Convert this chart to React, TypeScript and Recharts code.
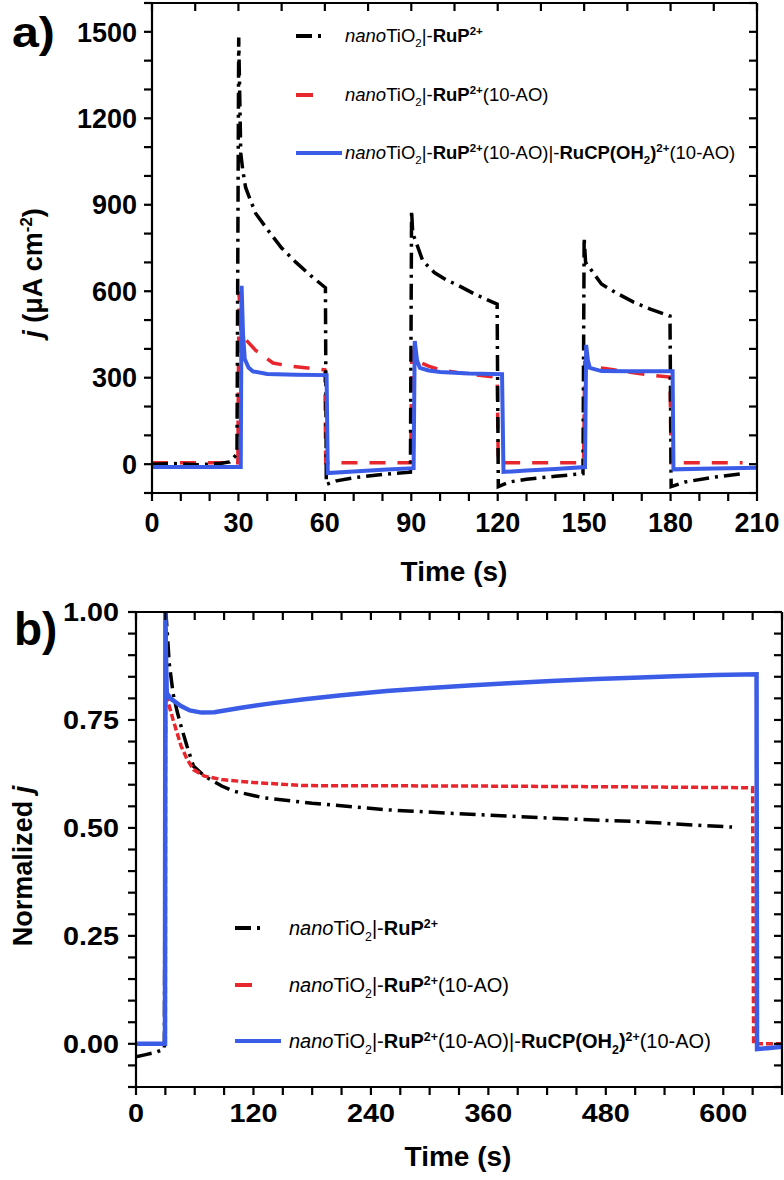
import React from "react";
import { LineChart, Line, XAxis, YAxis } from "recharts";

type P = { t: number; v: number };

// ---------- Panel a data (j, µA cm^-2 vs time, s) ----------
const blackA: P[] = [
  { t: 0, v: 0 }, { t: 8, v: 2 }, { t: 16, v: -2 }, { t: 24, v: 3 }, { t: 27, v: 8 }, { t: 29.5, v: 35 },
  { t: 30.1, v: 1480 }, { t: 30.5, v: 1250 }, { t: 30.8, v: 1080 }, { t: 31.5, v: 1020 }, { t: 32.5, v: 960 },
  { t: 34, v: 920 }, { t: 36, v: 870 }, { t: 40, v: 815 }, { t: 45, v: 750 }, { t: 50, v: 700 }, { t: 55, v: 655 },
  { t: 60.2, v: 612 },
  { t: 60.5, v: -70 }, { t: 64, v: -58 }, { t: 70, v: -47 }, { t: 80, v: -36 }, { t: 89.7, v: -28 },
  { t: 90.1, v: 880 }, { t: 90.5, v: 800 }, { t: 91.5, v: 775 }, { t: 94, v: 705 }, { t: 98, v: 665 },
  { t: 102, v: 640 }, { t: 106, v: 622 }, { t: 112, v: 590 }, { t: 116, v: 572 }, { t: 119.8, v: 555 },
  { t: 120.2, v: -78 }, { t: 124, v: -62 }, { t: 130, v: -52 }, { t: 140, v: -42 }, { t: 149.6, v: -33 },
  { t: 150, v: 786 }, { t: 150.5, v: 700 }, { t: 152, v: 680 }, { t: 156, v: 625 }, { t: 161, v: 595 },
  { t: 167, v: 563 }, { t: 173, v: 538 }, { t: 179.8, v: 514 },
  { t: 180.2, v: -78 }, { t: 185, v: -62 }, { t: 195, v: -45 }, { t: 205, v: -33 },
];

const redA: P[] = [
  { t: 0, v: 5 }, { t: 29.8, v: 5 }, { t: 30.2, v: 600 }, { t: 30.8, v: 470 }, { t: 32, v: 438 }, { t: 36, v: 395 },
  { t: 42, v: 351 }, { t: 48, v: 340 }, { t: 54, v: 334 }, { t: 60, v: 327 },
  { t: 60.3, v: 5 }, { t: 89.8, v: 5 }, { t: 90.2, v: 389 }, { t: 92, v: 358 }, { t: 96, v: 340 }, { t: 100, v: 327 },
  { t: 110, v: 312 }, { t: 119.8, v: 302 },
  { t: 120.2, v: 5 }, { t: 149.8, v: 5 }, { t: 150.2, v: 351 }, { t: 152, v: 345 }, { t: 156, v: 334 },
  { t: 165, v: 320 }, { t: 172, v: 310 }, { t: 179.8, v: 302 },
  { t: 180.2, v: 5 }, { t: 205, v: 5 },
];

const blueA: P[] = [
  { t: 0, v: -10 }, { t: 30.8, v: -10 }, { t: 31.1, v: 619 }, { t: 31.6, v: 450 }, { t: 32.2, v: 365 },
  { t: 33.5, v: 335 }, { t: 35, v: 322 }, { t: 40, v: 313 }, { t: 50, v: 310 }, { t: 60.6, v: 309 },
  { t: 61, v: -31 }, { t: 70, v: -25 }, { t: 80, v: -19 }, { t: 90.8, v: -14 },
  { t: 91.2, v: 427 }, { t: 92, v: 360 }, { t: 93, v: 334 }, { t: 96, v: 325 }, { t: 100, v: 320 },
  { t: 110, v: 315 }, { t: 121.5, v: 312 },
  { t: 122, v: -27 }, { t: 130, v: -22 }, { t: 140, v: -17 }, { t: 150.3, v: -10 },
  { t: 150.7, v: 414 }, { t: 151.3, v: 360 }, { t: 152, v: 334 }, { t: 156, v: 323 }, { t: 165, v: 322 },
  { t: 180.7, v: 322 },
  { t: 181, v: -18 }, { t: 195, v: -15 }, { t: 210, v: -12 },
];

// ---------- Panel b data (normalized j vs time, s) ----------
const blackB: P[] = [
  { t: 0, v: -0.03 }, { t: 10, v: -0.025 }, { t: 20, v: -0.02 }, { t: 29, v: -0.012 },
  { t: 30.5, v: 1.0 }, { t: 32, v: 0.95 }, { t: 34, v: 0.88 }, { t: 38, v: 0.81 }, { t: 42, v: 0.77 },
  { t: 46, v: 0.736 }, { t: 52, v: 0.69 }, { t: 58.7, v: 0.643 }, { t: 70, v: 0.62 }, { t: 87.6, v: 0.597 },
  { t: 100, v: 0.585 }, { t: 130, v: 0.57 }, { t: 180, v: 0.557 }, { t: 256, v: 0.542 }, { t: 320, v: 0.534 },
  { t: 382, v: 0.527 }, { t: 450, v: 0.52 }, { t: 508, v: 0.515 }, { t: 560, v: 0.508 }, { t: 609, v: 0.502 },
];

const redB: P[] = [
  { t: 0, v: 0.0 }, { t: 30, v: 0.0 }, { t: 30.3, v: 0.81 }, { t: 33, v: 0.79 }, { t: 37.7, v: 0.752 },
  { t: 42, v: 0.72 }, { t: 46, v: 0.69 }, { t: 52, v: 0.66 }, { t: 58.7, v: 0.635 }, { t: 70, v: 0.62 },
  { t: 87.6, v: 0.612 }, { t: 120, v: 0.605 }, { t: 172, v: 0.598 }, { t: 340, v: 0.597 }, { t: 508, v: 0.595 },
  { t: 630, v: 0.593 }, { t: 631, v: 0.0 }, { t: 660, v: 0.0 },
];

const blueB: P[] = [
  { t: 0, v: 0.0 }, { t: 29.6, v: 0.0 }, { t: 30, v: 1.0 }, { t: 30.6, v: 0.9 }, { t: 31.4, v: 0.813 },
  { t: 35, v: 0.8 }, { t: 46, v: 0.782 }, { t: 55, v: 0.772 }, { t: 67, v: 0.767 }, { t: 80, v: 0.768 },
  { t: 109, v: 0.779 }, { t: 140, v: 0.789 }, { t: 172, v: 0.798 }, { t: 210, v: 0.807 }, { t: 256, v: 0.817 },
  { t: 300, v: 0.824 }, { t: 340, v: 0.83 }, { t: 380, v: 0.835 }, { t: 424, v: 0.84 }, { t: 470, v: 0.845 },
  { t: 508, v: 0.848 }, { t: 550, v: 0.851 }, { t: 592, v: 0.854 }, { t: 634, v: 0.856 },
  { t: 634.5, v: -0.012 }, { t: 645, v: -0.01 }, { t: 660, v: -0.007 },
];

// ---------- ticks ----------
const xTicksA = [0, 10, 20, 30, 40, 50, 60, 70, 80, 90, 100, 110, 120, 130, 140, 150, 160, 170, 180, 190, 200, 210];
const xMajorA = [0, 30, 60, 90, 120, 150, 180, 210];
const xTopA = [0, 15, 30, 45, 60, 75, 90, 105, 120, 135, 150, 165, 180, 195, 210];
const yTicksA = [-100, 0, 100, 200, 300, 400, 500, 600, 700, 800, 900, 1000, 1100, 1200, 1300, 1400, 1500, 1600];
const yMajorA = [0, 300, 600, 900, 1200, 1500];

const xTicksB = [0, 30, 60, 90, 120, 150, 180, 210, 240, 270, 300, 330, 360, 390, 420, 450, 480, 510, 540, 570, 600, 630, 660];
const xMajorB = [0, 120, 240, 360, 480, 600];
const yTicksB = [-0.1, -0.05, 0, 0.05, 0.1, 0.15, 0.2, 0.25, 0.3, 0.35, 0.4, 0.45, 0.5, 0.55, 0.6, 0.65, 0.7, 0.75, 0.8, 0.85, 0.9, 0.95, 1.0];
const yMajorB = [0, 0.25, 0.5, 0.75, 1.0];

const FONT = "'Liberation Sans', Arial, Helvetica, sans-serif";
const BLACK = "#000000";
const RED = "#e8262d";
const BLUE = "#3b5ce6";
const DASH_DOT = "16 6 3 6";
const DASH = "16 12";
const TS = 8; // tick length

const isIn = (arr: number[], v: number) => arr.some((a) => Math.abs(a - v) < 1e-6);

// label-only tick renderers (tick marks drawn by Recharts' own tickLine)
function BottomLabel(props: any) {
  const { x, y, payload, majors, fmt, fs, sx, dy } = props;
  if (!isIn(majors, payload.value)) return <g />;
  return (
    <text transform={`translate(${x},${y + dy}) scale(${sx},1)`} textAnchor="middle" fontFamily={FONT}
      fontWeight="bold" fontSize={fs} fill={BLACK}>{fmt(payload.value)}</text>
  );
}
function LeftLabel(props: any) {
  const { x, y, payload, majors, fmt, fs, sx, gap } = props;
  if (!isIn(majors, payload.value)) return <g />;
  return (
    <text transform={`translate(${x - gap},${y}) scale(${sx},1)`} dy="0.36em" textAnchor="end" fontFamily={FONT}
      fontWeight="bold" fontSize={fs} fill={BLACK}>{fmt(payload.value)}</text>
  );
}
const NoLabel = () => <g />;

const axisLine = { stroke: BLACK, strokeWidth: 2.2 };
const tickLine = { stroke: BLACK, strokeWidth: 2.2 };

function Sub({ children }: { children: React.ReactNode }) {
  return <span style={{ fontSize: "0.62em", position: "relative", top: "0.45em", lineHeight: 0 }}>{children}</span>;
}
function Sup({ children, bold }: { children: React.ReactNode; bold?: boolean }) {
  return <span style={{ fontSize: "0.62em", position: "relative", top: "-0.6em", lineHeight: 0, fontWeight: bold ? "bold" : "normal" }}>{children}</span>;
}

const name1 = (<><i>nano</i>TiO<Sub>2</Sub>|-<b>RuP</b><Sup bold>2+</Sup></>);
const name2 = (<><i>nano</i>TiO<Sub>2</Sub>|-<b>RuP</b><Sup bold>2+</Sup>(10-AO)</>);
const name3 = (<><i>nano</i>TiO<Sub>2</Sub>|-<b>RuP</b><Sup bold>2+</Sup>(10-AO)|-<b>RuCP(OH</b><Sub><b>2</b></Sub><b>)</b><Sup bold>2+</Sup>(10-AO)</>);

function Legend({ rows, sampleX, textX, fs }: { rows: number[]; sampleX: number; textX: number; fs: number }) {
  const items = [
    { name: name1, color: BLACK, dash: DASH_DOT, len: 31 },
    { name: name2, color: RED, dash: undefined, len: 17 },
    { name: name3, color: BLUE, dash: undefined, len: 46 },
  ];
  return (
    <>
      {items.map((it, i) => (
        <React.Fragment key={i}>
          <svg style={{ position: "absolute", left: sampleX, top: rows[i] - 5 }} width={50} height={10}>
            <line x1={0} y1={5} x2={it.len} y2={5} stroke={it.color} strokeWidth={4} strokeDasharray={it.dash} />
          </svg>
          <div style={{ position: "absolute", left: textX, top: rows[i], transform: "translateY(-50%)", fontFamily: FONT,
            fontSize: fs, lineHeight: 1, whiteSpace: "nowrap", color: BLACK }}>{it.name}</div>
        </React.Fragment>
      ))}
    </>
  );
}

const hiddenLine = { stroke: "#ffffff", strokeOpacity: 0, strokeWidth: 0, dot: false, activeDot: false, isAnimationActive: false };

export default function App() {
  const fmtInt = (v: number) => String(v);
  const fmt2 = (v: number) => v.toFixed(2);
  return (
    <div style={{ position: "absolute", left: 0, top: 0, width: 784, height: 1180, background: "#fff", overflow: "hidden" }}>
      {/* Panel a : plot area x 152..756, y 4..493 */}
      <div style={{ position: "absolute", left: 0, top: 0 }}>
        <LineChart width={784} height={600} margin={{ top: 3, right: 27, left: 52, bottom: 67 }}>
          <XAxis xAxisId="b" dataKey="t" type="number" domain={[0, 210]} allowDataOverflow ticks={xTicksA} interval={0}
            height={40} tickSize={TS} tickMargin={0} tickLine={tickLine} axisLine={axisLine}
            tick={(p: any) => <BottomLabel {...p} majors={xMajorA} fmt={fmtInt} fs={27} sx={1} dy={39 - TS} />} />
          <XAxis xAxisId="t" orientation="top" mirror dataKey="t" type="number" domain={[0, 210]} allowDataOverflow
            ticks={xTopA} interval={0} height={1} tickSize={TS} tickLine={tickLine} axisLine={axisLine} tick={NoLabel} />
          <YAxis yAxisId="l" type="number" domain={[-100, 1600]} allowDataOverflow ticks={yTicksA} interval={0}
            width={100} tickSize={TS} tickMargin={0} tickLine={tickLine} axisLine={axisLine}
            tick={(p: any) => <LeftLabel {...p} majors={yMajorA} fmt={fmtInt} fs={27} sx={1} gap={15 - TS} />} />
          <YAxis yAxisId="r" orientation="right" mirror type="number" domain={[-100, 1600]} allowDataOverflow
            ticks={yTicksA} interval={0} width={1} tickSize={TS} tickLine={tickLine} axisLine={axisLine} tick={NoLabel} />
          <Line xAxisId="t" yAxisId="r" data={blueA} dataKey="v" type="linear" {...hiddenLine} />
          <Line xAxisId="b" yAxisId="l" data={redA} dataKey="v" type="linear" stroke={RED} strokeWidth={3.5}
            strokeDasharray={DASH} dot={false} activeDot={false} isAnimationActive={false} />
          <Line xAxisId="b" yAxisId="l" data={blackA} dataKey="v" type="linear" stroke={BLACK} strokeWidth={3.5}
            strokeDasharray={DASH_DOT} dot={false} activeDot={false} isAnimationActive={false} />
          <Line xAxisId="b" yAxisId="l" data={blueA} dataKey="v" type="linear" stroke={BLUE} strokeWidth={4}
            dot={false} activeDot={false} isAnimationActive={false} />
        </LineChart>
      </div>

      {/* Panel b : plot area x 136..781, y 613..1087 */}
      <div style={{ position: "absolute", left: 0, top: 580 }}>
        <LineChart width={784} height={600} margin={{ top: 32, right: 2, left: 36, bottom: 53 }}>
          <XAxis xAxisId="b" dataKey="t" type="number" domain={[0, 660]} allowDataOverflow ticks={xTicksB} interval={0}
            height={40} tickSize={TS} tickMargin={0} tickLine={tickLine} axisLine={axisLine}
            tick={(p: any) => <BottomLabel {...p} majors={xMajorB} fmt={fmtInt} fs={25} sx={1.15} dy={35 - TS} />} />
          <XAxis xAxisId="t" orientation="top" mirror dataKey="t" type="number" domain={[0, 660]} allowDataOverflow
            ticks={xTicksB} interval={0} height={1} tickSize={TS} tickLine={tickLine} axisLine={axisLine} tick={NoLabel} />
          <YAxis yAxisId="l" type="number" domain={[-0.1, 1.0]} allowDataOverflow ticks={yTicksB} interval={0}
            width={100} tickSize={TS} tickMargin={0} tickLine={tickLine} axisLine={axisLine}
            tick={(p: any) => <LeftLabel {...p} majors={yMajorB} fmt={fmt2} fs={25} sx={1.15} gap={17 - TS} />} />
          <YAxis yAxisId="r" orientation="right" mirror type="number" domain={[-0.1, 1.0]} allowDataOverflow
            ticks={yTicksB} interval={0} width={1} tickSize={TS} tickLine={tickLine} axisLine={axisLine} tick={NoLabel} />
          <Line xAxisId="t" yAxisId="r" data={blueB} dataKey="v" type="linear" {...hiddenLine} />
          <Line xAxisId="b" yAxisId="l" data={blackB} dataKey="v" type="linear" stroke={BLACK} strokeWidth={3.5}
            strokeDasharray={DASH_DOT} dot={false} activeDot={false} isAnimationActive={false} />
          <Line xAxisId="b" yAxisId="l" data={redB} dataKey="v" type="linear" stroke={RED} strokeWidth={3.5}
            strokeDasharray="7 3" dot={false} activeDot={false} isAnimationActive={false} />
          <Line xAxisId="b" yAxisId="l" data={blueB} dataKey="v" type="linear" stroke={BLUE} strokeWidth={4.5}
            dot={false} activeDot={false} isAnimationActive={false} />
        </LineChart>
      </div>

      {/* panel labels */}
      <div style={{ position: "absolute", left: 12, top: 12, fontFamily: FONT, fontWeight: "bold", fontSize: 42, lineHeight: 1,
        transform: "scaleX(1.15)", transformOrigin: "left center" }}>a)</div>
      <div style={{ position: "absolute", left: 14, top: 606, fontFamily: FONT, fontWeight: "bold", fontSize: 46, lineHeight: 1 }}>b)</div>

      {/* axis titles */}
      <div style={{ position: "absolute", left: 33, top: 273, transform: "translate(-50%,-50%) rotate(-90deg)", fontFamily: FONT,
        fontWeight: "bold", fontSize: 27, lineHeight: 1, whiteSpace: "nowrap" }}>
        <i>j</i> (μA cm<Sup bold>-2</Sup>)
      </div>
      <div style={{ position: "absolute", left: 454, top: 572, transform: "translate(-50%,-50%)", fontFamily: FONT,
        fontWeight: "bold", fontSize: 28, lineHeight: 1, whiteSpace: "nowrap" }}>Time (s)</div>
      <div style={{ position: "absolute", left: 23, top: 866, transform: "translate(-50%,-50%) rotate(-90deg)", fontFamily: FONT,
        fontWeight: "bold", fontSize: 27, lineHeight: 1, whiteSpace: "nowrap" }}>
        Normalized <i>j</i>
      </div>
      <div style={{ position: "absolute", left: 458, top: 1157, transform: "translate(-50%,-50%)", fontFamily: FONT,
        fontWeight: "bold", fontSize: 28, lineHeight: 1, whiteSpace: "nowrap" }}>Time (s)</div>

      {/* legends */}
      <Legend rows={[36, 95, 153]} sampleX={296} textX={345} fs={18.5} />
      <Legend rows={[928, 985, 1041]} sampleX={235} textX={289} fs={20} />
    </div>
  );
}
